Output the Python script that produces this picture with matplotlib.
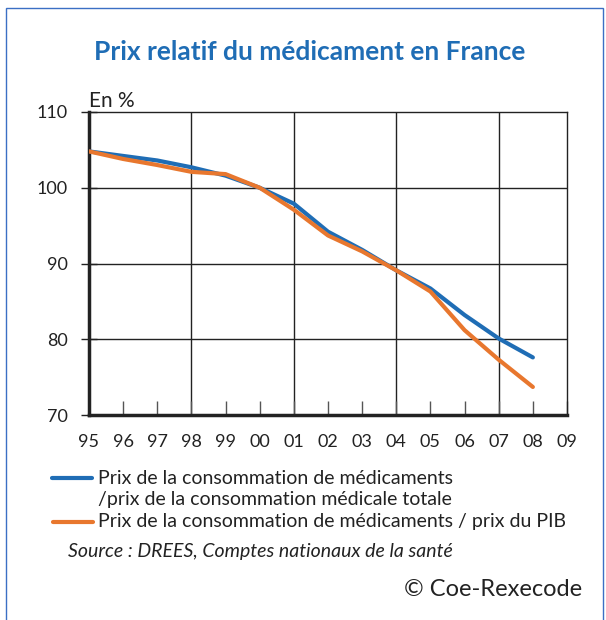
import matplotlib.pyplot as plt
import matplotlib.patches as mpatches

plt.rcParams['font.family'] = ['Lato', 'DejaVu Sans']

# données (indice, en %)
years = list(range(1995, 2009))
year_labels = ['95', '96', '97', '98', '99', '00', '01', '02', '03', '04', '05', '06', '07', '08', '09']
med_vs_total = [104.8, 104.2, 103.6, 102.7, 101.6, 100.0, 97.9, 94.2, 91.8, 89.1, 86.7, 83.2, 80.1, 77.6]
med_vs_pib = [104.8, 103.8, 103.0, 102.1, 101.8, 100.0, 97.1, 93.7, 91.6, 89.1, 86.3, 81.2, 77.3, 73.7]

blue = '#1f6db5'
orange = '#e8772e'
ink = '#222222'

fig = plt.figure(figsize=(6.06, 6.2), dpi=100)
W, H = 606, 620

# cadre bleu autour
fig.patches.append(mpatches.Rectangle((6 / W, -0.05), 597 / W, 1.05 - 8 / H, transform=fig.transFigure,
                                      fill=False, edgecolor='#3b6fc4', linewidth=1))

ax = fig.add_axes([89 / W, 1 - 415 / H, (567 - 89) / W, (415 - 112) / H])
ax.plot(years, med_vs_total, color=blue, lw=3.0, solid_capstyle='round', zorder=3)
ax.plot(years, med_vs_pib, color=orange, lw=3.0, solid_capstyle='round', zorder=4)

ax.set_xlim(1995, 2009)
ax.set_ylim(70, 110)
ax.set_yticks([70, 80, 90, 100, 110])
ax.set_xticks(range(1995, 2010))
ax.set_xticklabels(year_labels)

for x in [1998, 2001, 2004, 2007]:
    ax.axvline(x, color=ink, lw=1, zorder=1)
for y in [80, 90, 100]:
    ax.axhline(y, color=ink, lw=1, zorder=1)

for s in ['top', 'right']:
    ax.spines[s].set_linewidth(1)
    ax.spines[s].set_color(ink)
for s in ['left', 'bottom']:
    ax.spines[s].set_linewidth(2.5)
    ax.spines[s].set_color(ink)

ax.tick_params(axis='x', direction='in', length=10, width=1, color='#555555',
               labelsize=13, pad=14, labelcolor=ink)
ax.tick_params(axis='y', direction='inout', length=11, width=1, color=ink,
               labelsize=13, pad=10, labelcolor=ink)

fig.text(310 / W, 1 - 52 / H, 'Prix relatif du médicament en France', ha='center', va='center',
         fontsize=19, fontweight='bold', color=blue)
fig.text(89 / W, 1 - 101 / H, 'En %', ha='left', va='center', fontsize=15, color=ink)

# légende
fig.add_artist(plt.Line2D([52 / W, 92 / W], [1 - 478 / H] * 2, color=blue, lw=3, solid_capstyle='round'))
fig.add_artist(plt.Line2D([53 / W, 93 / W], [1 - 522 / H] * 2, color=orange, lw=3, solid_capstyle='round'))
fig.text(98 / W, 1 - 478 / H, 'Prix de la consommation de médicaments', va='center', fontsize=14, color=ink)
fig.text(98 / W, 1 - 500 / H, '/prix de la consommation médicale totale', va='center', fontsize=14, color=ink)
fig.text(98 / W, 1 - 522 / H, 'Prix de la consommation de médicaments / prix du PIB', va='center', fontsize=14,
         color=ink)
fig.text(68 / W, 1 - 551 / H, 'Source : DREES, Comptes nationaux de la santé', va='center', fontsize=14,
         style='italic', color=ink)
fig.text(582 / W, 1 - 590 / H, '© Coe-Rexecode', ha='right', va='center', fontsize=17, color=ink)

fig.savefig('out.png', dpi=100)
